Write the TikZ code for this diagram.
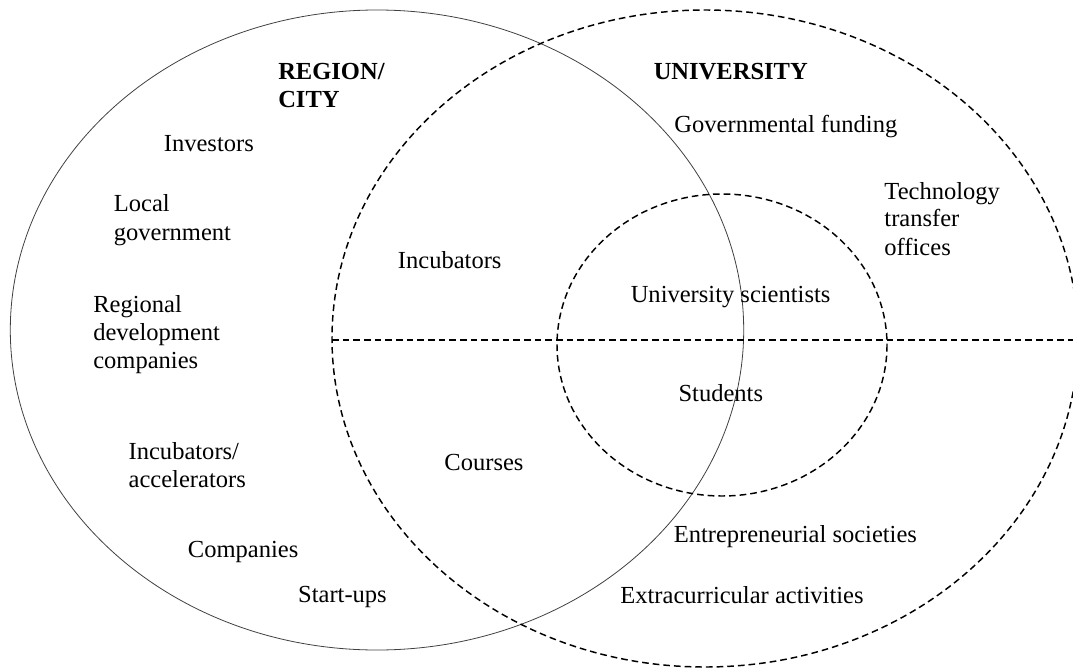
\documentclass[tikz,border=0pt]{standalone}
\usepackage{fontspec}
\setmainfont{Liberation Serif}
\begin{document}
\begin{tikzpicture}[x=0.75pt,y=-0.75pt,
  lbl/.style={anchor=base west,inner sep=0pt,align=left,font=\fontsize{18.4pt}{21pt}\selectfont},
  head/.style={lbl,font=\fontsize{18.4pt}{21pt}\selectfont\bfseries},
  solidline/.style={draw=black!75,line width=0.6pt},
  dashline/.style={draw=black,line width=1.1pt,dash pattern=on 5pt off 3pt}]
\useasboundingbox (0,0) rectangle (1073,670);
\clip (0,0) rectangle (1073,670);
% region/city ellipse
\draw[solidline] (377,330) ellipse [x radius=366.7, y radius=320];
% university ellipse
\draw[dashline] (705,338.5) ellipse [x radius=373, y radius=328.5];
% inner circle
\draw[dashline] (722,345) ellipse [x radius=165, y radius=151];
% divider
\coordinate (dl) at (332,340);
\coordinate (dr) at (1073,340);
\draw[dashline] (dl) -- (dr);
% labels (multi-line nodes placed by their last baseline)
\node[head] (region) at (278,108) {REGION/\\CITY};
\node[head] (univ) at (653.5,80) {UNIVERSITY};
\node[lbl] (inv) at (163.6,152) {Investors};
\node[lbl] (local) at (113.6,240) {Local\\government};
\node[lbl] (regdev) at (93,368) {Regional\\development\\companies};
\node[lbl] (incacc) at (128.4,487) {Incubators/\\accelerators};
\node[lbl] (comp) at (187.7,557) {Companies};
\node[lbl] (start) at (297.9,602) {Start-ups};
\node[lbl] (incub) at (397.7,268) {Incubators};
\node[lbl] (courses) at (444.2,470) {Courses};
\node[lbl] (gov) at (674.2,133) {Governmental funding};
\node[lbl] (tto) at (884.2,255) {Technology\\transfer\\offices};
\node[lbl] (sci) at (630.5,302) {University scientists};
\node[lbl] (stud) at (678.3,401) {Students};
\node[lbl] (entre) at (673.5,542) {Entrepreneurial societies};
\node[lbl] (extra) at (620.1,603) {Extracurricular activities};
\end{tikzpicture}
\end{document}
